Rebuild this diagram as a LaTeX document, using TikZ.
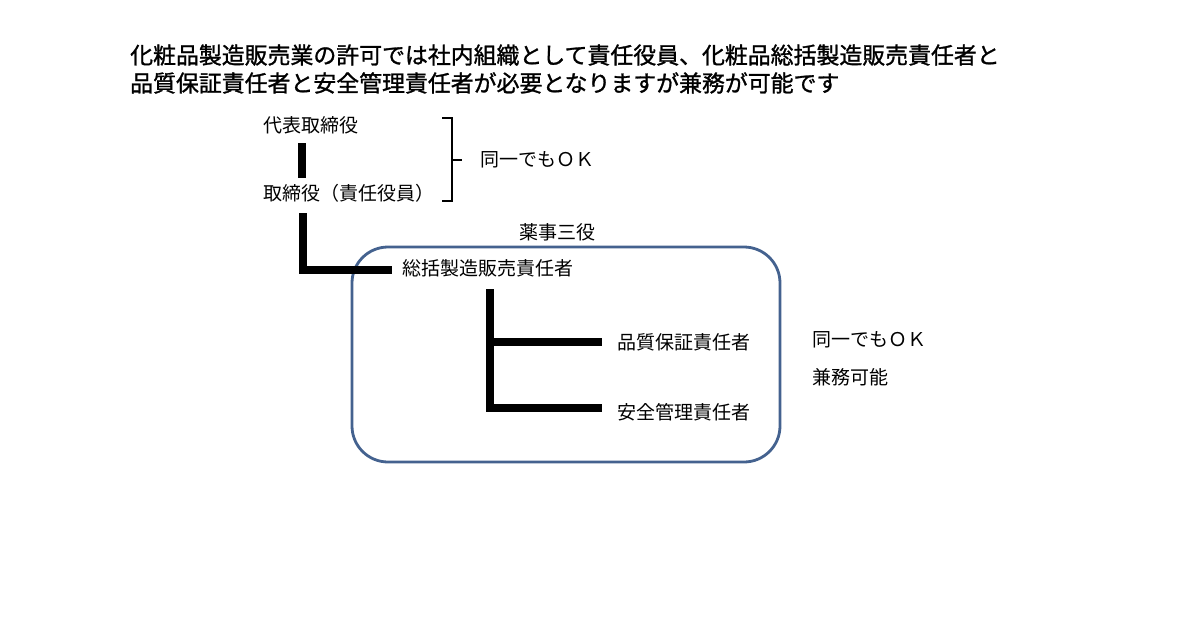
\documentclass[tikz,border=0pt]{standalone}
\usepackage{fontspec}
\newfontfamily\cjk{Noto Sans CJK JP}
\newfontfamily\cjkhead{Noto Sans CJK JP}[FakeBold=1.2]
\usetikzlibrary{positioning}
\definecolor{boxblue}{HTML}{44628F}

\begin{document}
\begin{tikzpicture}[x=1pt,y=-1pt,
                    bar/.style={line width=7.5pt},
                    role/.style={anchor=west,inner sep=0pt,font=\cjk\fontsize{19}{19}\selectfont}]
	\useasboundingbox[fill=white] (0,0) rectangle (1200,630);

	% heading
	\node[anchor=west,inner sep=0pt,align=left,font=\cjkhead\fontsize{22.9}{28}\selectfont]
		(head) at (130,69) {化粧品製造販売業の許可では社内組織として責任役員、化粧品総括製造販売責任者と\\品質保証責任者と安全管理責任者が必要となりますが兼務が可能です};

	% officers
	\node[role]		(rep)	at (263,125)	{代表取締役};
	\node[role]		(dir)	at (263,193)	{取締役（責任役員）};
	\coordinate		(repA)	at (302,143);
	\coordinate		(repB)	at (302,178);
	\draw[bar] (repA) -- (repB);

	\coordinate (brT) at (442,118);
	\coordinate (brB) at (442,201);
	\coordinate (brM) at (462,160);
	\draw[line width=2.6pt] (brT) -- (452,118) -- (452,201) -- (brB);
	\draw[line width=2.6pt] (452,160) -- (brM);
	\node[role]		(same1)	[right=18pt of brM]	{同一でもＯＫ};

	% three pharmaceutical roles
	\draw[boxblue,line width=2.8pt,rounded corners=36pt] (352,247) rectangle (780,462);
	\node[role,anchor=center]	(yakuji)	at (557,232)	{薬事三役};
	\node[role]		(gen)	at (402,268)	{総括製造販売責任者};
	\node[role]		(qa)	at (617,342)	{品質保証責任者};
	\node[role]		(sa)	at (617,412)	{安全管理責任者};

	\coordinate (dirL) at (303,213);
	\coordinate (genL) at (392,270);
	\draw[bar] (dirL) |- (genL);

	\coordinate (genB) at (490,289);
	\coordinate (qaL)  at (602,342);
	\coordinate (saL)  at (602,408);
	\draw[bar] (genB) |- (saL);
	\draw[bar] (490,342) -- (qaL);

	\node[role]		(same2)	at (812,340)	{同一でもＯＫ};
	\node[role]		(kenmu)	at (812,377)	{兼務可能};
\end{tikzpicture}
\end{document}
